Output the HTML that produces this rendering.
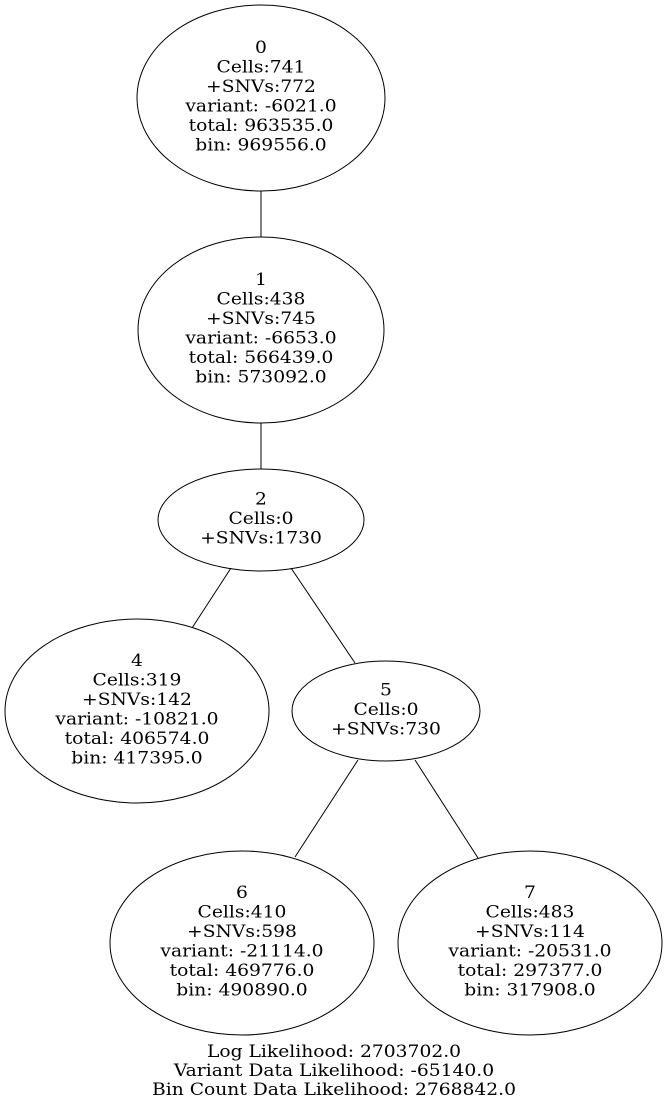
<!DOCTYPE html>
<html><head><meta charset="utf-8"><style>
html,body{margin:0;padding:0;background:#fff;}
svg text{font-family:"DejaVu Serif","Liberation Serif",serif;font-size:17px;text-anchor:middle;fill:#000;}
</style></head><body>
<svg width="668" height="1107" viewBox="0 0 668 1107" xmlns="http://www.w3.org/2000/svg">
<g fill="none" stroke="#000" stroke-width="1">
<ellipse cx="261" cy="98" rx="124" ry="93"/>
<ellipse cx="261" cy="330" rx="123" ry="93"/>
<ellipse cx="261" cy="520" rx="103" ry="51"/>
<ellipse cx="137" cy="711" rx="132" ry="92"/>
<ellipse cx="386" cy="711" rx="94" ry="50"/>
<ellipse cx="242" cy="943" rx="132" ry="92"/>
<ellipse cx="530" cy="943" rx="132" ry="92"/>
<line x1="261" y1="191" x2="261" y2="237"/>
<line x1="261" y1="423" x2="261" y2="469"/>
<line x1="231" y1="568" x2="192" y2="628"/>
<line x1="291" y1="568" x2="355" y2="663"/>
<line x1="358" y1="760" x2="295" y2="857"/>
<line x1="415" y1="760" x2="478" y2="858"/>
</g>
<g transform="translate(261,0) scale(1.1,1)">
<text x="0" y="53">0</text><text x="0" y="72.5">Cells:741</text><text x="0" y="92">+SNVs:772</text><text x="0" y="111.5">variant: -6021.0</text><text x="0" y="131">total: 963535.0</text><text x="0" y="150.5">bin: 969556.0</text>
<text x="0" y="285">1</text><text x="0" y="304.5">Cells:438</text><text x="0" y="324">+SNVs:745</text><text x="0" y="343.5">variant: -6653.0</text><text x="0" y="363">total: 566439.0</text><text x="0" y="382.5">bin: 573092.0</text>
<text x="0" y="504.5">2</text><text x="0" y="524">Cells:0</text><text x="0" y="543.5">+SNVs:1730</text>
</g>
<g transform="translate(137,0) scale(1.1,1)">
<text x="0" y="666">4</text><text x="0" y="685.5">Cells:319</text><text x="0" y="705">+SNVs:142</text><text x="0" y="724.5">variant: -10821.0</text><text x="0" y="744">total: 406574.0</text><text x="0" y="763.5">bin: 417395.0</text>
</g>
<g transform="translate(386,0) scale(1.1,1)">
<text x="0" y="695.5">5</text><text x="0" y="715">Cells:0</text><text x="0" y="734.5">+SNVs:730</text>
</g>
<g transform="translate(242,0) scale(1.1,1)">
<text x="0" y="898">6</text><text x="0" y="917.5">Cells:410</text><text x="0" y="937">+SNVs:598</text><text x="0" y="956.5">variant: -21114.0</text><text x="0" y="976">total: 469776.0</text><text x="0" y="995.5">bin: 490890.0</text>
</g>
<g transform="translate(530,0) scale(1.1,1)">
<text x="0" y="898">7</text><text x="0" y="917.5">Cells:483</text><text x="0" y="937">+SNVs:114</text><text x="0" y="956.5">variant: -20531.0</text><text x="0" y="976">total: 297377.0</text><text x="0" y="995.5">bin: 317908.0</text>
</g>
<g transform="translate(334,0) scale(1.1,1)">
<text x="0" y="1057">Log Likelihood: 2703702.0</text>
<text x="0" y="1076">Variant Data Likelihood: -65140.0</text>
<text x="0" y="1095">Bin Count Data Likelihood: 2768842.0</text>
</g>
</svg>
</body></html>
